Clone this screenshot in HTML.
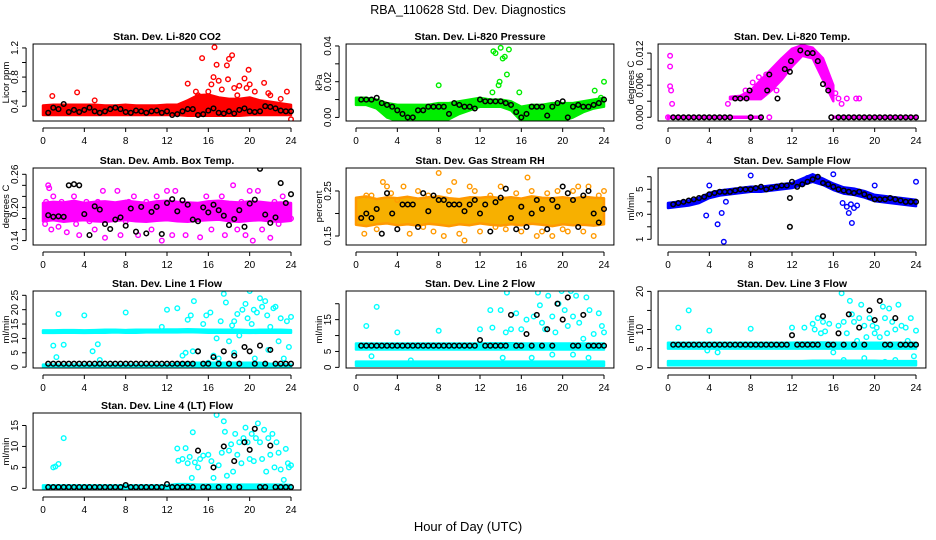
<!DOCTYPE html>
<html><head><meta charset="utf-8"><style>
html,body{margin:0;padding:0;background:#fff;}
svg{display:block;font-family:"Liberation Sans",Arial,sans-serif;}
</style></head><body>
<svg id="chart" width="936" height="540" viewBox="0 0 936 540" xmlns="http://www.w3.org/2000/svg">
<rect width="936" height="540" fill="#fff"/>
<text x="468" y="14" text-anchor="middle" font-size="12.5">RBA_110628  Std. Dev. Diagnostics</text>
<text x="468" y="531" text-anchor="middle" font-size="13">Hour of Day (UTC)</text>
</svg>
<script>
const H05=[0.5,1,1.5,2,2.5,3,3.5,4,4.5,5,5.5,6,6.5,7,7.5,8,8.5,9,9.5,10,10.5,11,11.5,12,12.5,13,13.5,14,14.5,15,15.5,16,16.5,17,17.5,18,18.5,19,19.5,20,20.5,21,21.5,22,22.5,23,23.5,24];
const H1=[0,1,2,3,4,5,6,7,8,9,10,11,12,13,14,15,16,17,18,19,20,21,22,23,24];
const xTicks=[0,4,8,12,16,20,24];

// Panel 1 CO2
const co2Lo=[0.28,0.28,0.28,0.28,0.28,0.28,0.28,0.28,0.28,0.28,0.28,0.28,0.28,0.28,0.27,0.27,0.27,0.27,0.27,0.27,0.28,0.28,0.28,0.28,0.28];
const co2Hi=[0.41,0.42,0.42,0.42,0.42,0.42,0.41,0.41,0.42,0.41,0.41,0.41,0.42,0.42,0.48,0.55,0.56,0.52,0.5,0.5,0.52,0.48,0.46,0.44,0.42];
const co2Pts=[[0.9,0.54],[3.3,0.59],[5,0.48],[14,0.71],[15.4,1.06],[16.6,1.21],[16.8,0.97],[17.8,0.96],[18,1.05],[18.3,1.1],[16,0.6],[16.5,0.8],[17,0.75],[17.3,0.63],[18.5,0.65],[19,0.68],[19.5,0.78],[19.9,0.9],[20,0.7],[21.4,0.72],[20.5,0.6],[22,0.55],[23.6,0.6],[24,0.22],[15,0.55],[14.8,0.6],[16.3,0.7],[17.9,0.77],[18.8,0.55],[19.7,0.65],[21.8,0.58],[23,0.5]];
const co2Blk=[0.31,0.38,0.36,0.43,0.32,0.35,0.32,0.35,0.38,0.33,0.31,0.33,0.36,0.38,0.36,0.32,0.31,0.34,0.33,0.31,0.33,0.34,0.31,0.33,0.28,0.29,0.33,0.36,0.36,0.28,0.29,0.34,0.37,0.31,0.30,0.33,0.30,0.35,0.37,0.33,0.32,0.33,0.40,0.39,0.37,0.34,0.33,0.33];

// Panel 2 Pressure
const prLo=[0.007,0.007,0.005,0.0,-0.002,-0.002,-0.002,-0.002,-0.002,-0.001,0.002,0.004,0.006,0.006,0.006,0.004,-0.002,-0.001,-0.002,-0.002,-0.002,0.0,0.003,0.005,0.006];
const prHi=[0.011,0.011,0.010,0.008,0.007,0.007,0.007,0.007,0.008,0.008,0.009,0.010,0.011,0.010,0.010,0.009,0.006,0.007,0.007,0.008,0.008,0.008,0.009,0.010,0.011];
const prPts=[[8,0.018],[13.2,0.014],[13.3,0.037],[13.5,0.036],[13.8,0.018],[13.9,0.02],[14,0.039],[14.2,0.033],[14.4,0.034],[14.8,0.038],[14.6,0.024],[15.8,0.014],[23.1,0.015],[23.7,0.011],[24,0.020]];
const prBlk=[0.010,0.010,0.010,0.011,0.008,0.007,0.006,0.004,0.002,0.000,0.000,0.004,0.004,0.006,0.006,0.006,0.006,0.002,0.008,0.007,0.006,0.006,0.005,0.010,0.009,0.009,0.009,0.009,0.008,0.007,0.003,0.000,0.002,0.006,0.006,0.006,0.001,0.006,0.008,0.009,0.000,0.006,0.007,0.006,0.006,0.007,0.008,0.010];

// Panel 3 Temp
const tmLo=[null,null,null,null,null,null,0.0034,0.0034,0.0034,0.0034,0.005,0.007,0.0095,0.0115,0.011,0.007,0.003,null,null,null,null,null,null,null,null];
const tmHi=[null,null,null,null,null,null,0.0038,0.0040,0.005,0.007,0.009,0.011,0.0128,0.0135,0.013,0.011,0.006,null,null,null,null,null,null,null,null];
const tmZLo=[-0.0001,-0.0001,-0.0001,-0.0001,-0.0001,-0.0001,-0.0001,-0.0001,-0.0001,-0.0001,null,null,null,null,null,null,-0.0001,-0.0001,-0.0001,-0.0001,-0.0001,-0.0001,-0.0001,-0.0001,-0.0001];
const tmZHi=[0.0001,0.0001,0.0001,0.0001,0.0001,0.0001,0.0001,0.0001,0.0001,0.0001,null,null,null,null,null,null,0.0001,0.0001,0.0001,0.0001,0.0001,0.0001,0.0001,0.0001,0.0001];
const tmPts=[[0.2,0.0115],[0.2,0.0095],[0.2,0.0058],[0.3,0.005],[0.4,0.0025],[5.8,0.0025],[7.5,0.005],[8.2,0.0065],[8.8,0.0075],[9.5,0.008],[10.5,0.005],[10.8,0.010],[11.5,0.011],[12.5,0.012],[15.5,0.006],[16.2,0.0045],[16.5,0.0035],[16.8,0.0025],[17.3,0.0035],[18.2,0.0035],[18.5,0.0035],[9.8,0],[0,0]];
const tmBlk=[[0.5,0],[1,0],[1.5,0],[2,0],[2.5,0],[3,0],[3.5,0],[4,0],[4.5,0],[5,0],[5.5,0],[6,0],[6.5,0.0035],[7,0.0035],[7.6,0.0035],[7.9,0.005],[8,0],[9,0],[9.6,0.005],[9.8,0.008],[10.6,0.0035],[11.3,0.009],[11.8,0.0085],[11.9,0.0105],[12.8,0.0125],[13.5,0.012],[14,0.012],[14.5,0.0105],[15,0.0062],[15.5,0.005],[15.8,0],[16.5,0],[17,0],[17.5,0],[18,0],[18.5,0],[19,0],[19.5,0],[20,0],[20.5,0],[21,0],[21.5,0],[22,0],[22.5,0],[23,0],[23.5,0],[24,0]];

// Panel 4 Amb box temp
const abLo=[0.175,0.177,0.174,0.176,0.177,0.175,0.174,0.176,0.177,0.175,0.174,0.176,0.177,0.175,0.174,0.176,0.177,0.178,0.175,0.174,0.176,0.177,0.175,0.174,0.176];
const abHi=[0.208,0.21,0.209,0.212,0.208,0.21,0.211,0.209,0.212,0.21,0.208,0.211,0.212,0.21,0.209,0.208,0.211,0.212,0.21,0.209,0.211,0.21,0.208,0.209,0.208];
const abPts=[[0.2,0.17],[0.3,0.21],[0.5,0.24],[0.6,0.235],[0.8,0.16],[1,0.22],[1.2,0.19],[1.5,0.165],[1.8,0.21],[2,0.18],[2.3,0.155],[2.6,0.2],[3,0.22],[3.2,0.17],[3.5,0.15],[4.2,0.21],[4.5,0.175],[5,0.16],[5.3,0.21],[5.8,0.23],[6,0.145],[6.2,0.18],[6.8,0.2],[7.2,0.23],[7.5,0.15],[8,0.175],[8.3,0.21],[8.8,0.22],[9.2,0.15],[9.5,0.19],[10,0.21],[10.5,0.16],[11,0.22],[11.5,0.14],[12,0.23],[12.5,0.15],[12.8,0.23],[13.2,0.2],[13.8,0.15],[14.2,0.18],[14.8,0.2],[15.2,0.146],[15.8,0.22],[16.3,0.16],[16.8,0.2],[17.3,0.22],[17.6,0.15],[18,0.19],[18.4,0.24],[18.8,0.16],[19.2,0.21],[19.6,0.15],[20,0.23],[20.3,0.14],[20.8,0.23],[21.2,0.16],[21.6,0.2],[22,0.145],[22.4,0.21],[22.8,0.17],[23.2,0.22],[23.6,0.19],[24,0.18]];
const abBlk=[0.186,0.183,0.184,0.183,0.240,0.242,0.240,0.188,0.150,0.202,0.196,0.170,0.161,0.178,0.182,0.167,0.198,0.156,0.201,0.153,0.192,0.201,0.152,0.208,0.215,0.193,0.213,0.205,0.178,0.175,0.200,0.191,0.205,0.195,0.185,0.168,0.179,0.195,0.165,0.207,0.214,0.270,0.187,0.172,0.182,0.244,0.208,0.224];

// Panel 5 RH
const rhLo=[0.175,0.172,0.176,0.178,0.174,0.176,0.173,0.177,0.175,0.172,0.176,0.174,0.178,0.175,0.173,0.176,0.174,0.177,0.175,0.172,0.176,0.174,0.175,0.173,0.176];
const rhHi=[0.235,0.238,0.232,0.236,0.234,0.237,0.233,0.236,0.238,0.234,0.232,0.236,0.235,0.237,0.234,0.236,0.233,0.238,0.235,0.234,0.236,0.233,0.237,0.235,0.234];
const rhPts=[[0.3,0.19],[0.8,0.155],[1,0.24],[1.5,0.24],[2,0.165],[2.6,0.27],[3,0.26],[3.4,0.245],[4,0.23],[4.6,0.26],[5.2,0.155],[6,0.25],[6.5,0.17],[7,0.24],[7.5,0.16],[8,0.29],[8.5,0.15],[9,0.25],[9.5,0.27],[10,0.155],[10.5,0.14],[11,0.26],[11.5,0.25],[12,0.16],[13,0.24],[13.5,0.17],[14,0.26],[14.5,0.165],[15.5,0.245],[16,0.16],[16.6,0.28],[17,0.25],[17.5,0.15],[18,0.16],[18.5,0.245],[19,0.15],[19.5,0.25],[20,0.165],[20.5,0.16],[21,0.25],[21.5,0.26],[22,0.16],[22.5,0.26],[23,0.15],[23.5,0.24],[24,0.25]];
const rhBlk=[0.19,0.20,0.19,0.21,0.155,0.245,0.20,0.165,0.22,0.22,0.22,0.17,0.245,0.205,0.24,0.23,0.23,0.22,0.22,0.22,0.205,0.22,0.23,0.20,0.22,0.16,0.225,0.235,0.255,0.19,0.165,0.215,0.17,0.20,0.23,0.21,0.165,0.23,0.215,0.26,0.245,0.23,0.17,0.24,0.25,0.20,0.18,0.21];

// Panel 6 Sample flow
const sfLo=[3.5,3.6,3.7,3.9,4.3,4.5,4.6,4.7,4.8,4.8,4.9,5.0,5.1,5.35,5.6,5.35,4.95,4.65,4.55,4.35,4.05,3.95,3.85,3.75,3.65];
const sfHi=[3.9,4.0,4.1,4.3,4.7,4.9,5.0,5.1,5.2,5.2,5.3,5.4,5.5,5.85,6.2,5.85,5.45,5.15,5.05,4.85,4.55,4.45,4.35,4.25,4.15];
const sfPts=[[3.7,2.9],[4.8,2.2],[5.2,3.1],[5.4,0.8],[5.6,4.0],[4,5.3],[8,6.1],[13.5,5.9],[14,5.9],[14.5,5.7],[16,6.2],[16.9,3.9],[17.3,3.6],[17.5,3.1],[17.7,3.8],[17.8,2.3],[18,3.5],[18.3,3.7],[20,5.3],[24,5.6]];
const sfBlk=[3.8,3.9,4.0,4.1,4.2,4.3,4.4,4.6,4.7,4.8,4.8,4.8,4.9,5.0,5.0,5.0,5.1,5.2,5.0,5.1,5.2,5.3,5.3,5.6,5.2,5.4,5.6,5.8,6.0,5.5,5.4,5.2,5.0,4.9,4.8,4.7,4.8,4.6,4.4,4.2,4.2,4.2,4.3,4.2,4.1,4.0,4.0,4.0];
const sfBlkExtra=[[11.8,4.3],[11.8,2.0]];

// Panel 7 Line 1
const l1TopLo=[11.9,11.9,12.0,12.0,11.9,12.0,12.0,12.1,12.0,12.0,12.1,12.1,12.1,12.1,12.2,12.1,12.0,12.0,12.0,12.0,11.9,12.0,12.0,12.0,12.0];
const l1TopHi=[12.8,12.8,12.9,12.9,12.8,12.9,13.0,13.0,12.9,13.0,13.0,13.0,13.1,13.1,13.2,13.1,13.0,13.0,13.0,13.0,12.9,13.0,13.0,13.0,12.9];
const l1BotLo=[0.2,0.2,0.2,0.2,0.2,0.2,0.2,0.2,0.2,0.2,0.2,0.2,0.2,0.2,0.2,0.2,0.2,0.2,0.2,0.2,0.2,0.2,0.2,0.2,0.2];
const l1BotHi=[0.9,0.9,0.9,0.9,0.9,0.9,0.9,0.9,0.9,0.9,0.9,0.9,0.9,1.2,1.5,1.5,1.5,1.5,1.5,1.5,1.5,1.5,1.2,1.0,0.9];
const l1Pts=[[1,7.5],[1.3,3.5],[1.5,18.5],[2,7.8],[4,18],[4.8,5.5],[5.3,8],[5.5,2.5],[8,19],[11.5,14],[12,20],[13,20.5],[13.5,4],[14,16.5],[14.3,18],[14.6,23],[15,5.5],[15.5,15],[15.8,18],[16.2,19],[16.5,4],[16.8,10],[17.2,16],[17.5,25.5],[17.7,22.5],[18,9],[18.3,14.5],[18.5,16],[18.8,18.5],[19,11],[19.3,20],[19.6,22],[19.8,17],[20,26.5],[20.2,15],[20.4,20],[20.7,19],[21,24],[21.2,21],[21.5,23],[21.7,18],[22,14],[22.3,20.5],[22.5,21],[22.8,9],[23,17],[23.3,3],[23.6,16],[23.8,7],[24,17.5],[16,1.5],[18.5,5],[20.5,3],[21.8,6],[13.8,5],[14.5,5.5],[17,3]];
const l1Blk=[1.2,1.2,1.2,1.2,1.2,1.2,1.2,1.2,1.2,1.2,1.2,1.2,1.2,1.2,1.2,1.2,1.2,1.2,1.2,1.2,1.2,1.2,1.2,1.2,1.2,1.2,1.2,1.2,1.2,5.5,1.2,1.2,3.5,1.2,5.5,1.2,4,1.2,7,5.5,1.2,7.5,1.2,6,1.2,1.2,1.2,1.2];

// Panel 8 Line 2
const l2TopLo=[5.6,5.6,5.6,5.6,5.6,5.6,5.6,5.6,5.6,5.6,5.6,5.6,5.6,5.6,5.6,5.6,5.6,5.6,5.6,5.6,5.6,5.6,5.6,5.6,5.6];
const l2TopHi=[7.5,7.5,7.5,7.5,7.5,7.5,7.5,7.5,7.5,7.5,7.5,7.5,7.5,7.6,7.6,7.6,7.5,7.5,7.5,7.5,7.5,7.5,7.5,7.5,7.5];
const l2BotLo=[0.5,0.5,0.5,0.5,0.5,0.5,0.5,0.5,0.5,0.5,0.5,0.5,0.5,0.5,0.5,0.5,0.5,0.5,0.5,0.5,0.5,0.5,0.5,0.5,0.5];
const l2BotHi=[1.8,1.8,1.8,1.8,1.8,1.8,1.8,1.8,1.8,1.8,1.8,1.8,1.8,1.8,1.8,1.8,1.8,1.8,1.8,1.8,1.8,1.8,1.8,1.8,1.8];
const l2Pts=[[1,13],[1.5,3.5],[2,19],[4,11],[5.3,2.2],[8,11.5],[12,12],[13,18],[13.2,12.5],[14,18],[14.5,11],[14.6,23.5],[15,12],[15.5,17],[16,12],[16.5,15],[16.8,25],[17.2,16],[17.6,23.5],[17.8,19.5],[18,14],[18.3,12],[18.6,22.5],[19,16],[19.3,11],[19.6,20],[19.9,24],[20.2,18],[20.5,13],[20.8,24],[21,16],[21.3,22.5],[21.6,14],[22,9],[22.3,22],[22.6,18],[23,10.5],[23.5,17],[23.8,13],[24,11],[14.2,3],[17,3],[19,4],[21,4],[22.5,3]];
const l2Blk=[6.8,6.8,6.8,6.8,6.8,6.8,6.8,6.8,6.8,6.8,6.8,6.8,6.8,6.8,6.8,6.8,6.8,6.8,6.8,6.8,6.8,6.8,6.8,8.6,6.8,6.8,6.8,6.8,6.8,16.5,6.8,6.8,10.5,6.8,16.5,6.8,12,6.8,20,15,22,6.8,6.8,16.5,6.8,6.8,6.8,6.8];

// Panel 9 Line 3
const l3TopLo=[5.0,5.0,5.0,5.0,5.0,5.0,5.0,5.0,5.0,5.0,5.0,5.0,5.0,5.0,5.0,5.0,5.0,5.0,5.0,5.0,5.0,5.0,5.0,5.0,5.0];
const l3TopHi=[6.5,6.5,6.5,6.5,6.5,6.5,6.5,6.5,6.5,6.5,6.5,6.5,6.5,6.6,6.6,6.6,6.5,6.5,6.5,6.5,6.5,6.5,6.5,6.5,6.5];
const l3BotLo=[0.6,0.6,0.6,0.6,0.6,0.6,0.6,0.6,0.6,0.6,0.6,0.6,0.6,0.6,0.6,0.6,0.6,0.6,0.6,0.6,0.6,0.6,0.6,0.6,0.6];
const l3BotHi=[1.7,1.7,1.7,1.7,1.7,1.7,1.7,1.7,1.7,1.7,1.7,1.7,1.7,1.7,1.8,1.8,1.8,1.8,1.8,1.8,1.8,1.7,1.7,1.7,1.7];
const l3Pts=[[1,10.5],[2,15],[3.8,4.5],[4,9.7],[4.8,4],[8,10.2],[12,10.5],[13.2,10.5],[14,11.5],[14.2,10],[14.5,13],[14.8,9],[15,12],[15.2,9.5],[15.6,11.5],[16,4],[16.5,11],[16.8,19.5],[17,12],[17.3,9],[17.6,17.5],[17.8,14],[18,12],[18.3,7],[18.5,13],[18.7,16.5],[19,11],[19.2,8],[19.5,13],[19.8,11],[20,9],[20.2,10.5],[20.5,8],[20.8,16],[21,13],[21.2,9],[21.4,15.5],[21.7,12],[22,10],[22.3,16.5],[22.6,11],[23,10.5],[23.2,7],[23.5,13],[23.8,3],[24,9.7],[17,2],[19,2.5],[21,1.5],[22,2]];
const l3Blk=[6,6,6,6,6,6,6,6,6,6,6,6,6,6,6,6,6,6,6,6,6,6,6,8.5,6,6,6,6,6,13.5,6,6,9,6,14,6,10.5,6,15,12.5,17.5,6,6,13,6,6,6,6];

// Panel 10 Line 4
const l4Lo=[-0.1,-0.1,-0.1,-0.1,-0.1,-0.1,-0.1,-0.1,-0.1,-0.1,-0.1,-0.1,-0.1,-0.1,-0.1,-0.1,-0.1,-0.1,-0.1,-0.1,-0.1,-0.1,-0.1,-0.1,-0.1];
const l4Hi=[0.7,0.7,0.7,0.7,0.7,0.7,0.7,0.7,0.7,0.7,0.7,0.7,0.7,1.0,1.0,0.9,0.9,0.9,0.9,0.9,0.9,0.9,0.9,0.9,0.8];
const l4Pts=[[1,5],[1.2,5.2],[1.5,5.8],[2,12],[13,9.5],[13.1,6.6],[13.5,7],[13.8,9.6],[14,6],[14.2,7.5],[14.4,2.5],[14.5,13.4],[14.7,6.2],[15,5],[15.2,7],[15.5,7.8],[16,8],[16.3,6.5],[16.5,2.5],[16.8,17.5],[17,5.5],[17.3,8.5],[17.5,16],[17.6,13.5],[17.8,3],[18,9],[18.2,10.5],[18.4,4],[18.6,13],[18.8,8],[19,11],[19.2,6],[19.4,12],[19.6,14.5],[19.8,11],[20,7],[20.2,13],[20.4,6.5],[20.6,12],[20.8,15.5],[21,11],[21.2,7],[21.4,14],[21.6,4],[21.8,12],[22,8],[22.2,13],[22.4,5],[22.6,11],[22.8,8.5],[23,4.5],[23.3,2],[23.5,9.4],[23.7,6],[23.8,5],[24,5.5]];
const l4Blk=[0.3,0.3,0.3,0.3,0.3,0.3,0.3,0.3,0.3,0.3,0.3,0.3,0.3,0.3,0.3,0.8,0.3,0.3,0.3,0.3,0.3,0.3,0.3,1.0,0.3,0.3,0.3,0.3,0.3,9,0.3,0.3,5,0.3,10,0.3,6.5,0.3,11,9.2,14.2,0.3,0.3,10.2,0.3,0.3,0.3,0.3];

// layout (not data)
const colX0=[43,356,668], rowTop=[44,168,291,413], PH=77, PXH=248/24;
const panels=[
 {name:'co2',title:'Stan. Dev. Li-820 CO2',ylab:'Licor ppm',c:0,r:0,ymin:0.197,ymax:1.254,ticks:[0.4,0.6,0.8,1.0,1.2],labs:['0.4',null,'0.8',null,'1.2'],color:'#ff0000',bands:[[co2Lo,co2Hi]],pts:co2Pts,blk:co2Blk},
 {name:'pressure',title:'Stan. Dev. Li-820 Pressure',ylab:'kPa',c:1,r:0,ymin:-0.002,ymax:0.0411,ticks:[0,0.01,0.02,0.03,0.04],labs:['0.00',null,'0.02',null,'0.04'],color:'#00ee00',bands:[[prLo,prHi]],pts:prPts,blk:prBlk},
 {name:'temp',title:'Stan. Dev. Li-820 Temp.',ylab:'degrees C',c:2,r:0,ymin:-0.0007,ymax:0.0137,ticks:[0,0.003,0.006,0.009,0.012],labs:['0.000',null,'0.006',null,'0.012'],color:'#ff00ff',bands:[[tmLo,tmHi],[tmZLo,tmZHi]],pts:tmPts,blkXY:tmBlk},
 {name:'amb-box-temp',title:'Stan. Dev. Amb. Box Temp.',ylab:'degrees C',c:0,r:1,ymin:0.132,ymax:0.2714,ticks:[0.14,0.16,0.18,0.20,0.22,0.24,0.26],labs:['0.14',null,null,'0.20',null,null,'0.26'],color:'#ff00ff',bands:[[abLo,abHi]],pts:abPts,blk:abBlk},
 {name:'gas-rh',title:'Stan. Dev. Gas Stream RH',ylab:'percent',c:1,r:1,ymin:0.13,ymax:0.301,ticks:[0.15,0.20,0.25],labs:['0.15',null,'0.25'],color:'#ff9900',fill:'#f7b000',bands:[[rhLo,rhHi]],pts:rhPts,blk:rhBlk},
 {name:'sample-flow',title:'Stan. Dev. Sample Flow',ylab:'ml/min',c:2,r:1,ymin:0.544,ymax:6.7,ticks:[1,2,3,4,5,6],labs:['1',null,'3',null,'5',null],color:'#0000ff',bands:[[sfLo,sfHi]],pts:sfPts,blk:sfBlk,blkExtra:sfBlkExtra},
 {name:'line1-flow',title:'Stan. Dev. Line 1 Flow',ylab:'ml/min',c:0,r:2,ymin:-0.3,ymax:26.5,ticks:[0,5,10,15,20,25],labs:['0','5','10','15','20','25'],color:'#00ffff',bands:[[l1TopLo,l1TopHi],[l1BotLo,l1BotHi]],pts:l1Pts,blk:l1Blk},
 {name:'line2-flow',title:'Stan. Dev. Line 2 Flow',ylab:'ml/min',c:1,r:2,ymin:-0.2,ymax:24,ticks:[0,5,10,15,20],labs:['0','5',null,'15',null],color:'#00ffff',bands:[[l2TopLo,l2TopHi],[l2BotLo,l2BotHi]],pts:l2Pts,blk:l2Blk},
 {name:'line3-flow',title:'Stan. Dev. Line 3 Flow',ylab:'ml/min',c:2,r:2,ymin:-0.1,ymax:20.1,ticks:[0,5,10,15,20],labs:['0','5','10',null,'20'],color:'#00ffff',bands:[[l3TopLo,l3TopHi],[l3BotLo,l3BotHi]],pts:l3Pts,blk:l3Blk},
 {name:'line4-flow',title:'Stan. Dev. Line 4 (LT) Flow',ylab:'ml/min',c:0,r:3,ymin:-0.4,ymax:17.98,ticks:[0,5,10,15],labs:['0','5','10','15'],color:'#00ffff',bands:[[l4Lo,l4Hi]],pts:l4Pts,blk:l4Blk}
];

const NS='http://www.w3.org/2000/svg';
const svg=document.getElementById('chart');
function mk(tag,attrs,parent){const e=document.createElementNS(NS,tag);for(const k in attrs)e.setAttribute(k,attrs[k]);(parent||svg).appendChild(e);return e;}

panels.forEach(p=>{
  const x0=colX0[p.c], top=rowTop[p.r];
  const xs=v=>x0+v*PXH;
  const ys=v=>top+(p.ymax-v)/(p.ymax-p.ymin)*PH;
  const L=x0-0.96*PXH, R=x0+24.96*PXH;
  const g=mk('g',{});
  
  
  const clip=mk('clipPath',{id:'clip-'+p.name},g);
  mk('rect',{x:L,y:top,width:R-L,height:PH},clip);
  const plot=mk('g',{'clip-path':'url(#clip-'+p.name+')'},g);
  p.bands.forEach((b)=>{
    const lo=b[0],hi=b[1];
    let seg=[];
    const flush=()=>{
      if(seg.length>1){
        const d='M'+seg.map(i=>xs(H1[i]).toFixed(1)+','+ys(hi[i]).toFixed(1)).join('L')+'L'+seg.slice().reverse().map(i=>xs(H1[i]).toFixed(1)+','+ys(lo[i]).toFixed(1)).join('L')+'Z';
        const path=mk('path',{d:d,fill:p.fill||p.color,stroke:p.color,'stroke-width':2.5,'stroke-linejoin':'round'},plot);
        
        
      }
      seg=[];
    };
    H1.forEach((h,i)=>{if(lo[i]===null||hi[i]===null)flush();else seg.push(i);});
    flush();
  });
  p.pts.forEach(pt=>{
    const c=mk('circle',{cx:xs(pt[0]).toFixed(1),cy:ys(pt[1]).toFixed(1),r:2.3,fill:'none',stroke:p.color,'stroke-width':1.4},plot);
    
    
  });
  let blk=[];
  if(p.blk)blk=p.blk.map((v,i)=>[H05[i],v]);
  if(p.blkXY)blk=p.blkXY;
  if(p.blkExtra)blk=blk.concat(p.blkExtra);
  blk.forEach(pt=>{
    const c=mk('circle',{cx:xs(pt[0]).toFixed(1),cy:ys(pt[1]).toFixed(1),r:2.3,fill:'none',stroke:'#000','stroke-width':1.5},plot);
    
    
  });
  const box=mk('rect',{x:L,y:top,width:R-L,height:PH,fill:'none',stroke:'#000','stroke-width':1},g);
  
  
  const xb=top+PH;
  mk('line',{x1:xs(0),x2:xs(24),y1:xb+7,y2:xb+7,stroke:'#000'},g);
  xTicks.forEach(t=>{
    mk('line',{x1:xs(t),x2:xs(t),y1:xb+7,y2:xb+11,stroke:'#000'},g);
    const tx=mk('text',{x:xs(t),y:xb+23,'text-anchor':'middle','font-size':10},g);
    tx.textContent=t;
    
    
  });
  const ax=L-7;
  mk('line',{x1:ax,x2:ax,y1:ys(p.ticks[0]),y2:ys(p.ticks[p.ticks.length-1]),stroke:'#000'},g);
  p.ticks.forEach((t,i)=>{
    mk('line',{x1:ax-4,x2:ax,y1:ys(t),y2:ys(t),stroke:'#000'},g);
    if(p.labs[i]){
      const tx=mk('text',{x:ax-8,y:ys(t),'text-anchor':'middle','font-size':10,transform:'rotate(-90 '+(ax-8)+' '+ys(t)+')'},g);
      tx.textContent=p.labs[i];
      
      
    }
  });
  const yl=mk('text',{x:L-24,y:top+PH/2,'text-anchor':'middle','font-size':9.5,transform:'rotate(-90 '+(L-24)+' '+(top+PH/2)+')'},g);
  yl.textContent=p.ylab;
  
  
  const ti=mk('text',{x:(L+R)/2,y:top-4,'text-anchor':'middle','font-size':10.5,'font-weight':'bold'},g);
  ti.textContent=p.title;
  
  
});
</script>
</body></html>
